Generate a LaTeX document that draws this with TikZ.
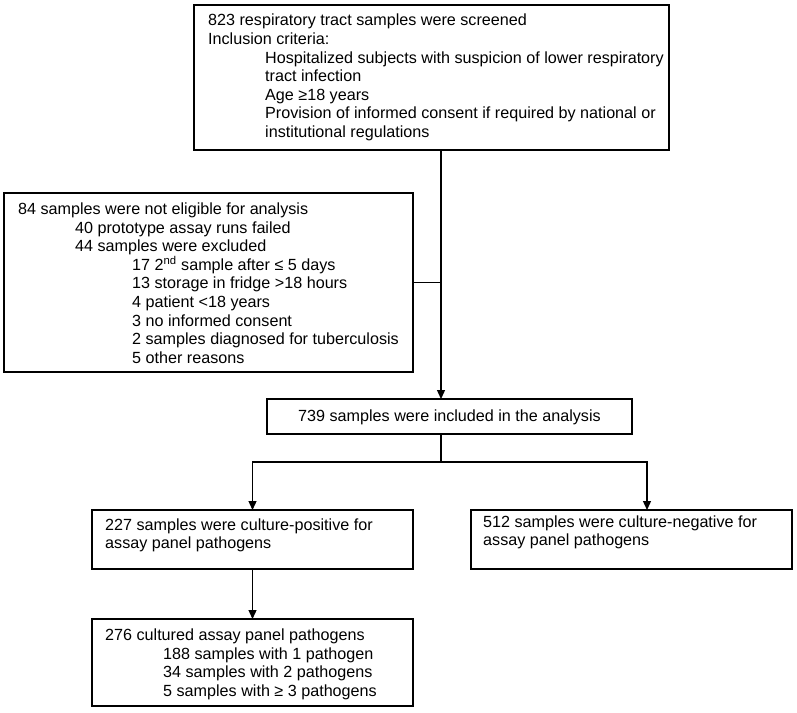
\documentclass[tikz,border=0pt]{standalone}
\usepackage{fontspec}
\setmainfont{Liberation Sans}
\usetikzlibrary{arrows.meta}
\begin{document}
\begin{tikzpicture}[x=1pt,y=-1pt,
  box/.style={draw, line width=1.8pt, anchor=north west, inner sep=0pt, outer sep=0pt},
  txt/.style={anchor=base west, inner sep=0pt, font=\fontsize{16.15}{18.6}\selectfont},
  ctxt/.style={anchor=base, inner sep=0pt, font=\fontsize{16.15}{18.6}\selectfont},
  conn/.style={line width=1.3pt},
  arr/.style={conn, -{Triangle[width=8pt,length=9pt]}}]
\useasboundingbox (0,0) rectangle (797,712);
\fill[white] (0,0) rectangle (797,712);
% boxes
\node[box, minimum width=475pt, minimum height=145pt] (top) at (194,5) {};
\node[box, minimum width=409pt, minimum height=179pt] (excl) at (4,193) {};
\node[box, minimum width=365pt, minimum height=35pt] (inc) at (267,399) {};
\node[box, minimum width=321pt, minimum height=59pt] (pos) at (92,510) {};
\node[box, minimum width=321pt, minimum height=59pt] (neg) at (471,510) {};
\node[box, minimum width=321pt, minimum height=87pt] (path) at (92,619) {};
% top box text
\node[txt] (t1) at (208,25.8) {823 respiratory tract samples were screened};
\node[txt] (t2) at (208,44.4) {Inclusion criteria:};
\node[txt] (t3) at (265,63.0) {Hospitalized subjects with suspicion of lower respiratory};
\node[txt] (t4) at (265,81.6) {tract infection};
\node[txt] (t5) at (265,100.2) {Age ≥18 years};
\node[txt] (t6) at (265,118.8) {Provision of informed consent if required by national or};
\node[txt] (t7) at (265,137.4) {institutional regulations};
% exclusion box text
\node[txt] (e1) at (18,214.5) {84 samples were not eligible for analysis};
\node[txt] (e2) at (75,233.1) {40 prototype assay runs failed};
\node[txt] (e3) at (75,251.7) {44 samples were excluded};
\node[txt] (e4) at (132,270.3) {17 2\textsuperscript{nd} sample after ≤ 5 days};
\node[txt] (e5) at (132,288.9) {13 storage in fridge >18 hours};
\node[txt] (e6) at (132,307.5) {4 patient <18 years};
\node[txt] (e7) at (132,326.1) {3 no informed consent};
\node[txt] (e8) at (132,344.7) {2 samples diagnosed for tuberculosis};
\node[txt] (e9) at (132,363.3) {5 other reasons};
% included
\node[ctxt] (i1) at (449.5,421.5) {739 samples were included in the analysis};
% positive / negative
\node[txt] (p1) at (105,530) {227 samples were culture-positive for};
\node[txt] (p2) at (105,548.6) {assay panel pathogens};
\node[txt] (n1) at (483,527) {512 samples were culture-negative for};
\node[txt] (n2) at (483,545.6) {assay panel pathogens};
% pathogens
\node[txt] (c1) at (105,640.5) {276 cultured assay panel pathogens};
\node[txt] (c2) at (163,659.1) {188 samples with 1 pathogen};
\node[txt] (c3) at (163,677.7) {34 samples with 2 pathogens};
\node[txt] (c4) at (163,696.3) {5 samples with ≥ 3 pathogens};
% connectors
\coordinate (ax) at (441,0);
\coordinate (negx) at (647,0);
\coordinate (br) at (441,462);
\draw[arr] (top.south -| ax) -- (inc.north -| ax);
\draw[conn] (excl.east) -- (excl.east -| ax);
\draw[conn] (inc.south -| ax) -- (br);
\draw[arr] (br) -- (br -| pos.north) -- (pos.north);
\draw[arr] (br) -- (br -| negx) -- (neg.north -| negx);
\draw[arr] (pos.south) -- (path.north);
\end{tikzpicture}
\end{document}
